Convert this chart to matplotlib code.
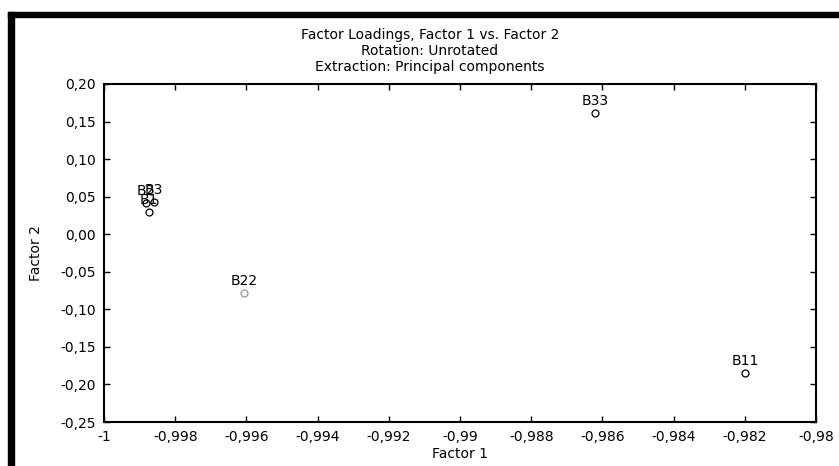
import matplotlib.pyplot as plt
from matplotlib.patches import Rectangle

plt.rcParams['font.family'] = ['DejaVu Sans']

# factor loadings
labels = ['B1', 'B2', 'B3', 'B11', 'B22', 'B33']
factor1 = [-0.99874, -0.99882, -0.99860, -0.98199, -0.99607, -0.98621]
factor2 = [0.0296, 0.0415, 0.0429, -0.1848, -0.0783, 0.1614]
colors = ['black', 'black', 'black', 'black', '#999999', 'black']

xticks = [-1.0, -0.998, -0.996, -0.994, -0.992, -0.99, -0.988, -0.986, -0.984, -0.982, -0.98]
xticklabels = ['-1', '-0,998', '-0,996', '-0,994', '-0,992', '-0,99', '-0,988',
               '-0,986', '-0,984', '-0,982', '-0,98']
yticks = [-0.25, -0.20, -0.15, -0.10, -0.05, 0.0, 0.05, 0.10, 0.15, 0.20]
yticklabels = ['-0,25', '-0,20', '-0,15', '-0,10', '-0,05', '0,00', '0,05', '0,10', '0,15', '0,20']

fs = 10
fig = plt.figure(figsize=(8.39, 4.66), dpi=100)
ax = fig.add_axes([104 / 839, 1 - 422 / 466, 712 / 839, 338 / 466])

for x, y, lab, c in zip(factor1, factor2, labels, colors):
    ax.plot(x, y, 'o', ms=5, mfc='none', mec=c, mew=0.9)
    ax.annotate(lab, (x, y), xytext=(0, 3.5), textcoords='offset points',
                ha='center', va='bottom', fontsize=fs)

ax.set_xlim(-1.0, -0.98)
ax.set_ylim(-0.25, 0.20)
ax.set_xticks(xticks)
ax.set_xticklabels(xticklabels)
ax.set_yticks(yticks)
ax.set_yticklabels(yticklabels)
ax.tick_params(direction='in', length=4, width=1, top=True, right=True,
               labelsize=fs, pad=6)
for s in ax.spines.values():
    s.set_linewidth(1.5)
ax.set_xlabel('Factor 1', fontsize=fs, labelpad=2)
ax.set_ylabel('Factor 2', fontsize=fs, labelpad=12)

# titles
fig.text(430 / 839, 1 - 35 / 466, 'Factor Loadings, Factor 1 vs. Factor 2', ha='center', va='center', fontsize=fs)
fig.text(430 / 839, 1 - 51 / 466, 'Rotation: Unrotated', ha='center', va='center', fontsize=fs)
fig.text(430 / 839, 1 - 67 / 466, 'Extraction: Principal components', ha='center', va='center', fontsize=fs)

# black frame at top and left
fig.patches.append(Rectangle((8 / 839, 1 - 17 / 466), 1, 5 / 466, transform=fig.transFigure,
                             color='black', zorder=10))
fig.patches.append(Rectangle((8 / 839, 0), 6 / 839, 1 - 12 / 466, transform=fig.transFigure,
                             color='black', zorder=10))

fig.savefig('out.png', dpi=100)
